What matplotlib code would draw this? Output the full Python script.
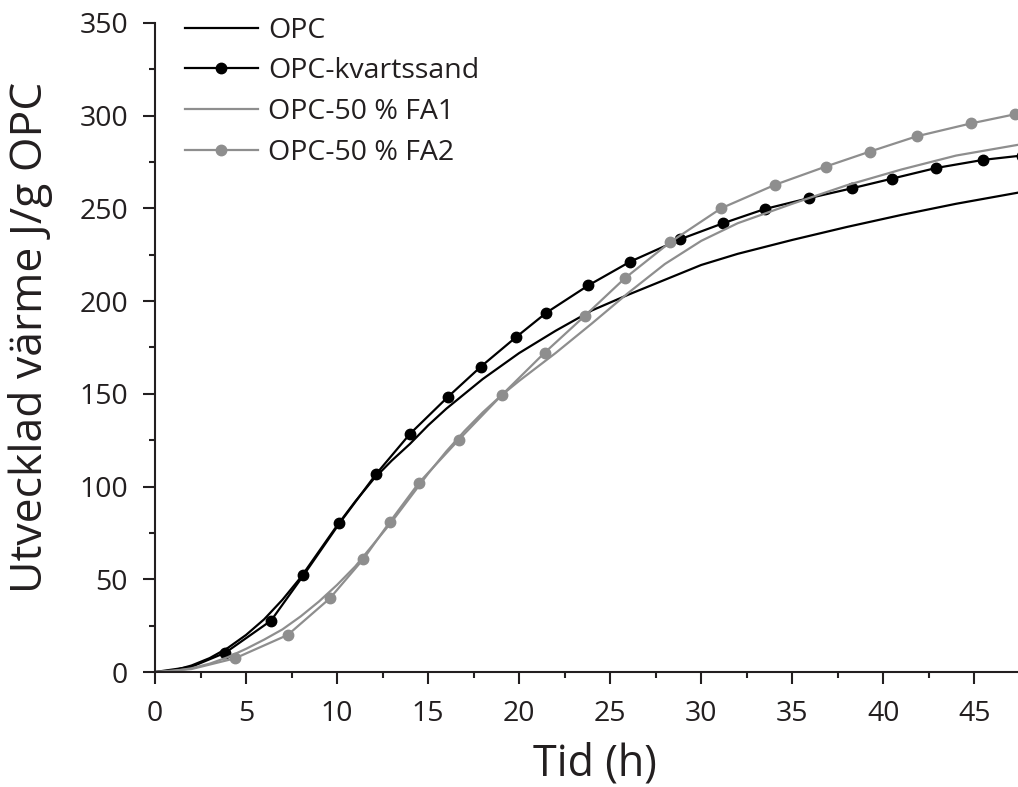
import matplotlib
matplotlib.use('Agg')
import matplotlib.pyplot as plt
from matplotlib.ticker import MultipleLocator

plt.rcParams['font.family'] = ['Open Sans', 'DejaVu Sans']

# values (time in h, heat in J/g OPC)
opc_t = [0, 1, 2, 3, 4, 5, 6, 7, 8, 9, 10, 11, 12, 13, 14, 15, 16, 17, 18, 19,
         20, 21, 22, 23, 24, 26, 28, 30, 32, 35, 38, 41, 44, 47.4]
opc_q = [0, 0.8, 3.5, 7.5, 13, 20, 28.5, 39, 51, 65, 79, 92, 104, 114, 123, 133,
         142, 150, 158, 165, 172, 178, 184, 189.5, 195, 203.5, 211.5, 219.5, 225.5,
         233, 240, 246.5, 252.5, 258.5]

kvarts_t = [0, 2, 3.86, 6.37, 8.15, 10.13, 12.13, 14.0, 16.08, 17.9, 19.82, 21.5,
            23.8, 26.1, 28.85, 31.2, 33.5, 35.9, 38.3, 40.5, 42.9, 45.5, 47.6]
kvarts_q = [0, 2.8, 10.4, 27.7, 52.1, 80.2, 106.6, 128.4, 148.3, 164.7, 180.5,
            193.8, 208.5, 221.3, 233.4, 242, 249.7, 255.5, 260.9, 266.1, 271.8,
            276.2, 278.5]

fa1_t = [0, 1, 2, 3, 4, 5, 6, 7, 8, 9, 10, 11, 12, 13, 14, 15, 16, 17, 18, 19,
         20, 21, 22, 23, 24, 26, 28, 30, 32, 35, 38, 41, 44, 47.4]
fa1_q = [0, 0.5, 2, 4.5, 8, 12.5, 17.5, 23, 30, 38, 47, 57, 69, 81, 94, 107, 119,
         130, 140, 149, 157, 164.5, 172, 180, 188, 204.5, 220, 232.5, 242, 252.5,
         262.5, 271, 278.5, 284.3]

fa2_t = [0, 2, 4.4, 7.29, 9.6, 11.45, 12.9, 14.5, 16.67, 19.05, 21.4, 23.6, 25.8,
         28.3, 31.1, 34.07, 36.85, 39.25, 41.84, 44.8, 47.25]
fa2_q = [0, 1.6, 7.4, 20, 39.7, 61, 81, 102.1, 125.1, 149.4, 172.2, 192, 212.3,
         231.8, 250.1, 262.8, 272.6, 280.6, 288.9, 295.8, 300.8]

labels = ['OPC', 'OPC-kvartssand', 'OPC-50 % FA1', 'OPC-50 % FA2']

ink = '#231f20'
gray = '#8e8e8e'

fig = plt.figure(figsize=(10.18, 7.87), dpi=100)
ax = fig.add_axes([0.1523, 0.1461, 0.8477, 0.8247])

ax.plot(opc_t, opc_q, color='black', lw=1.6, label=labels[0])
ax.plot(kvarts_t, kvarts_q, color='black', lw=1.6, marker='o', ms=7.5,
        markevery=list(range(2, len(kvarts_t))), label=labels[1])
ax.plot(fa1_t, fa1_q, color=gray, lw=1.6, label=labels[2])
ax.plot(fa2_t, fa2_q, color=gray, lw=1.6, marker='o', ms=7.5,
        markevery=list(range(2, len(fa2_t))), label=labels[3])

ax.set_xlim(0, 47.4)
ax.set_ylim(0, 350)
ax.xaxis.set_major_locator(MultipleLocator(5))
ax.xaxis.set_minor_locator(MultipleLocator(2.5))
ax.yaxis.set_major_locator(MultipleLocator(50))
ax.yaxis.set_minor_locator(MultipleLocator(25))

for side in ['top', 'right']:
    ax.spines[side].set_visible(False)
for side in ['left', 'bottom']:
    ax.spines[side].set_color(ink)
    ax.spines[side].set_linewidth(1.5)

ax.tick_params(which='major', direction='out', length=8.5, width=1.5,
               color=ink, labelsize=20.5, labelcolor=ink)
ax.tick_params(which='minor', direction='out', length=4, width=1.5, color=ink)
ax.tick_params(axis='y', which='major', pad=11)
ax.tick_params(axis='x', which='major', pad=12)

ax.set_xlabel('Tid (h)', fontsize=31, color=ink)
ax.xaxis.label.set_va('baseline')
ax.xaxis.set_label_coords(0.51, -0.160)
ax.set_ylabel('Utvecklad värme J/g OPC', fontsize=32, color=ink)
ax.yaxis.set_label_coords(-0.118, 0.515)

ax.legend(loc='upper left', bbox_to_anchor=(0.1817, 0.979),
          bbox_transform=fig.transFigure, frameon=False, fontsize=20.5,
          handlelength=2.56, handletextpad=0.35, labelspacing=0.45,
          borderpad=0, borderaxespad=0, labelcolor=ink)

fig.savefig('out.png', dpi=100)
